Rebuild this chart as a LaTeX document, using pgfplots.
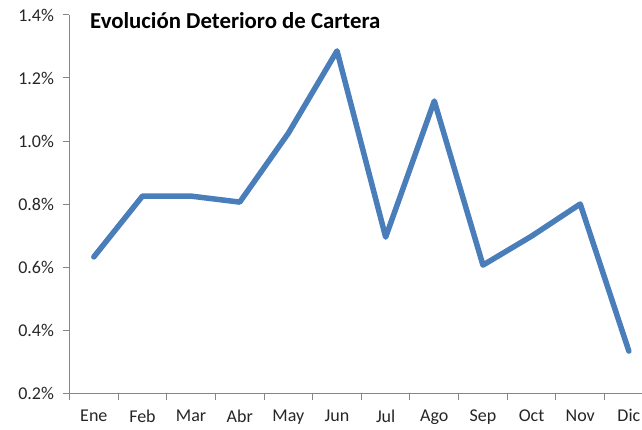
\documentclass[border=0pt]{standalone}
\usepackage{pgfplots}
\pgfplotsset{compat=1.18}
\usepackage{fontspec}
\setmainfont{Carlito}
\usetikzlibrary{calc}
\definecolor{lineblue}{HTML}{4A7EBB}
\definecolor{axgray}{HTML}{868686}
\definecolor{txt}{HTML}{262626}
\begin{document}
\begin{tikzpicture}[x=1pt,y=1pt]
\begin{axis}[
  name=ax,
  scale only axis,
  width=572.5pt, height=378pt,
  xmin=-0.5, xmax=11.27,
  ymin=0.2, ymax=1.4,
  axis x line*=bottom, axis y line*=left,
  axis line style={axgray, line width=1pt},
  xtick={0,...,11},
  xticklabels={Ene,Feb,Mar,Abr,May,Jun,Jul,Ago,Sep,Oct,Nov,Dic},
  minor xtick={-0.5,0.5,...,10.5},
  major x tick style={draw=none},
  minor tick length=7pt,
  tick align=outside,
  ytick={0.2,0.4,...,1.41},
  major tick length=7pt,
  tick style={axgray, line width=1pt},
  /pgf/number format/assume math mode=true,
  yticklabel={\pgfmathprintnumber[fixed,fixed zerofill,precision=1]{\tick}\%},
  ticklabel style={font=\fontsize{18}{20}\selectfont, text=txt},
  xticklabel style={yshift=-6pt},
  yticklabel style={xshift=-5pt},
  clip=false,
]
\addplot[lineblue, line width=5.5pt, line join=round, line cap=round] coordinates {
(0,0.632) (1,0.825) (2,0.825) (3,0.806) (4,1.025) (5,1.286)
(6,0.695) (7,1.127) (8,0.606) (9,0.698) (10,0.800) (11,0.333)
};
\end{axis}
\node[anchor=base west, inner sep=0pt, font=\fontsize{22.8}{25}\selectfont\bfseries, text=black]
  at ($(ax.south west)+(20.5pt,364pt)$) {Evolución Deterioro de Cartera};
\pgfresetboundingbox
\path[use as bounding box] ($(ax.south west)+(-69.5pt,-36pt)$) rectangle ++(642pt,429pt);
\end{tikzpicture}
\end{document}
